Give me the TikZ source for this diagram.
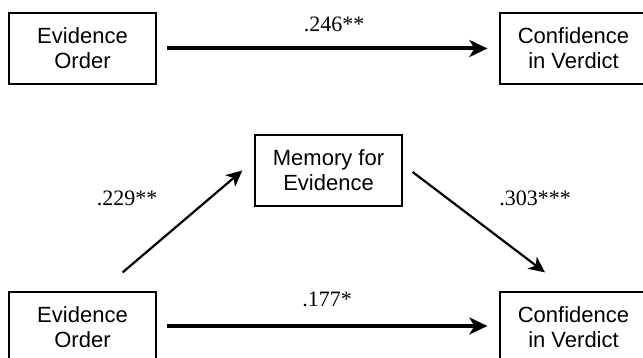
\documentclass[tikz,border=0pt]{standalone}
\usepackage{fontspec}
\setmainfont{Liberation Serif}
\setsansfont{Liberation Sans}
\usetikzlibrary{positioning, arrows.meta}

\begin{document}
\begin{tikzpicture}[x=1pt,y=-1pt,
	var/.style={draw,line width=1.2pt,minimum width=147pt,minimum height=71pt,inner sep=0pt,align=center,font=\sffamily\fontsize{22}{25}\selectfont},
	lbl/.style={anchor=base,font=\fontsize{22}{25}\selectfont},
	thick path/.style={line width=4pt,-{Stealth[length=18pt,width=17pt,inset=5pt]}},
	thin path/.style={line width=2.2pt,-{Stealth[length=16pt,width=15pt,inset=4.5pt]}}]
	\useasboundingbox (0,0) rectangle (643,358);
	\node[var] (order_1) at (82.5,48.5) {Evidence\\Order};
	\node[var] (conf_1) at (573.5,48.5) {Confidence\\in Verdict};
	\node[var] (mem) at (328.5,170.5) {Memory for\\Evidence};
	\node[var] (order_2) at (82.5,327.5) {Evidence\\Order};
	\node[var] (conf_2) at (573.5,327.5) {Confidence\\in Verdict};
	\node[lbl] (c_1) at (334,32) {.246**};
	\node[lbl] (a_1) at (127,206) {.229**};
	\node[lbl] (b_1) at (535,206) {.303***};
	\node[lbl] (c_2) at (327,307) {.177*};
	\draw[thick path,shorten <=10pt,shorten >=12pt] (order_1.east) -- (conf_1.west);
	\draw[thick path,shorten <=10pt,shorten >=12pt] ([yshift=1.5pt]order_2.east) -- ([yshift=1.5pt]conf_2.west);
	\draw[thin path] ([xshift=-34pt,yshift=19pt]order_2.north east) -- ([xshift=-12pt]mem.west);
	\draw[thin path] ([xshift=10pt,yshift=-1.5pt]mem.east) -- ([xshift=-28.5pt,yshift=19pt]conf_2.north);
\end{tikzpicture}
\end{document}
